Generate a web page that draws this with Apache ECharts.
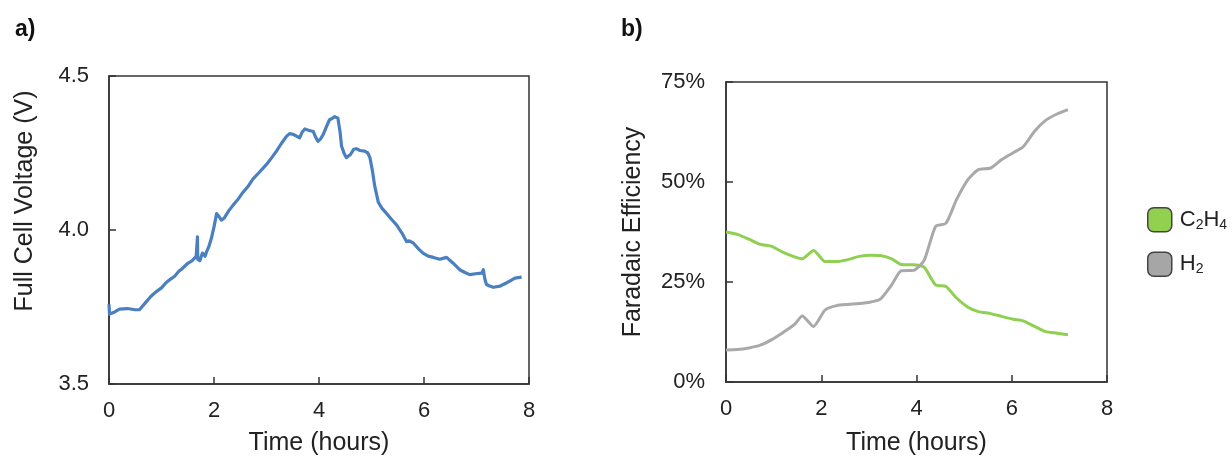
<!DOCTYPE html>
<html>
<head>
<meta charset="utf-8">
<style>
  html, body { margin: 0; padding: 0; background: #fff; }
  #chart { width: 1232px; height: 461px; }
</style>
<script src="https://cdn.jsdelivr.net/npm/echarts@6/dist/echarts.min.js"></script>
</head>
<body>
<div id="chart"></div>
<script>
// panel a: full cell voltage vs time
const voltTime = [0, 0.01, 0.1, 0.2, 0.35, 0.5, 0.58, 0.7, 0.8, 0.9, 1.0, 1.08, 1.16, 1.25, 1.33, 1.41, 1.5, 1.58, 1.66, 1.68, 1.685, 1.69, 1.73, 1.78, 1.83, 1.86, 1.9, 1.95, 2.0, 2.05, 2.09, 2.14, 2.2, 2.28, 2.36, 2.45, 2.55, 2.65, 2.74, 2.85, 3.0, 3.1, 3.19, 3.28, 3.38, 3.44, 3.52, 3.63, 3.68, 3.73, 3.8, 3.89, 3.94, 3.98, 4.03, 4.08, 4.14, 4.2, 4.25, 4.3, 4.36, 4.4, 4.43, 4.48, 4.52, 4.6, 4.66, 4.71, 4.78, 4.87, 4.93, 4.97, 5.02, 5.06, 5.13, 5.2, 5.29, 5.38, 5.48, 5.58, 5.67, 5.72, 5.8, 5.9, 5.98, 6.08, 6.18, 6.3, 6.43, 6.55, 6.68, 6.78, 6.87, 6.98, 7.1, 7.13, 7.16, 7.19, 7.25, 7.32, 7.45, 7.57, 7.65, 7.73, 7.86];
const voltValue = [3.759, 3.727, 3.733, 3.743, 3.745, 3.741, 3.741, 3.765, 3.785, 3.800, 3.812, 3.828, 3.839, 3.850, 3.866, 3.877, 3.892, 3.900, 3.914, 3.910, 3.978, 3.905, 3.900, 3.925, 3.915, 3.930, 3.945, 3.973, 4.010, 4.053, 4.045, 4.032, 4.040, 4.062, 4.080, 4.098, 4.122, 4.142, 4.165, 4.185, 4.213, 4.235, 4.256, 4.280, 4.304, 4.313, 4.310, 4.299, 4.318, 4.328, 4.324, 4.320, 4.300, 4.288, 4.296, 4.310, 4.335, 4.358, 4.362, 4.368, 4.363, 4.320, 4.272, 4.248, 4.235, 4.245, 4.262, 4.264, 4.258, 4.256, 4.250, 4.235, 4.190, 4.144, 4.090, 4.070, 4.053, 4.035, 4.016, 3.990, 3.962, 3.965, 3.957, 3.938, 3.925, 3.915, 3.911, 3.905, 3.911, 3.893, 3.871, 3.862, 3.855, 3.858, 3.860, 3.871, 3.840, 3.823, 3.818, 3.814, 3.818, 3.828, 3.836, 3.844, 3.847];

// panel b: faradaic efficiency (%) vs time
const feTime = [0, 0.24, 0.48, 0.72, 0.96, 1.2, 1.44, 1.6, 1.84, 2.08, 2.32, 2.56, 2.8, 3.04, 3.24, 3.48, 3.68, 3.94, 4.16, 4.4, 4.62, 4.84, 5.08, 5.3, 5.56, 5.79, 6.03, 6.24, 6.48, 6.71, 6.95, 7.18];
const c2h4 = [37.5, 36.9, 35.7, 34.4, 33.9, 32.4, 31.3, 30.8, 32.9, 30.1, 30.1, 30.6, 31.4, 31.7, 31.6, 30.8, 29.4, 29.3, 28.7, 24.3, 23.9, 21.0, 18.7, 17.6, 17.1, 16.4, 15.7, 15.3, 13.9, 12.6, 12.2, 11.8];
const h2 = [8.0, 8.1, 8.5, 9.2, 10.6, 12.4, 14.4, 16.5, 13.9, 18.0, 19.1, 19.4, 19.6, 20.0, 20.7, 24.3, 27.8, 27.9, 30.4, 38.9, 39.7, 45.6, 50.6, 53.1, 53.5, 55.6, 57.3, 58.8, 62.7, 65.4, 67.0, 68.1];

const xTicks = [0, 2, 4, 6, 8];
const voltTicks = ['3.5', '4.0', '4.5'];
const feTicks = ['0%', '25%', '50%', '75%'];

const zip = (xs, ys) => xs.map((x, i) => [x, ys[i]]);

const font = 'Liberation Sans, Arial, Helvetica, sans-serif';
const ink = '#222';
const axisLineStyle = { color: '#333', width: 1.5 };

const chart = echarts.init(document.getElementById('chart'));

const xAxisBase = {
  type: 'value',
  min: xTicks[0],
  max: xTicks[xTicks.length - 1],
  interval: 2,
  axisLine: { show: true, onZero: false, lineStyle: axisLineStyle },
  axisTick: { show: true, inside: true, length: 7, lineStyle: axisLineStyle },
  splitLine: { show: false },
  axisLabel: { color: ink, fontSize: 22, fontFamily: font, margin: 16 },
  name: 'Time (hours)',
  nameLocation: 'middle',
  nameTextStyle: { color: ink, fontSize: 25, fontFamily: font }
};

const option = {
  animation: false,
  backgroundColor: '#fff',
  title: [
    { text: 'a)', left: 10, top: 13, textStyle: { fontSize: 23, fontWeight: 'bold', color: '#111', fontFamily: font } },
    { text: 'b)', left: 616, top: 13, textStyle: { fontSize: 23, fontWeight: 'bold', color: '#111', fontFamily: font } }
  ],
  grid: [
    { left: 109, top: 76, width: 420, height: 311, show: true, borderColor: '#333', borderWidth: 1.5, backgroundColor: 'transparent' },
    { left: 726, top: 82, width: 381, height: 300, show: true, borderColor: '#333', borderWidth: 1.5, backgroundColor: 'transparent' }
  ],
  legend: {
    orient: 'vertical',
    left: 1147,
    top: 207,
    padding: 0,
    itemWidth: 24,
    itemHeight: 24,
    itemGap: 19,
    icon: 'roundRect',
    itemStyle: { borderColor: '#444', borderWidth: 1.5 },
    data: ['C2H4', 'H2'],
    formatter: function (name) {
      return name === 'C2H4' ? '{n|C}{s|2}{n|H}{s|4}' : '{n|H}{s|2}';
    },
    textStyle: {
      padding: [0, 0, 0, 3],
      rich: {
        n: { fontSize: 22, lineHeight: 24, color: ink, fontFamily: font },
        s: { fontSize: 14, lineHeight: 14, color: ink, fontFamily: font, verticalAlign: 'bottom' }
      }
    }
  },
  xAxis: [
    Object.assign({}, xAxisBase, { gridIndex: 0, nameGap: 47 }),
    Object.assign({}, xAxisBase, { gridIndex: 1, nameGap: 49 })
  ],
  yAxis: [
    {
      gridIndex: 0,
      type: 'value',
      min: 3.5,
      max: 4.5,
      interval: 0.5,
      axisLine: { show: true, lineStyle: axisLineStyle },
      axisTick: { show: true, inside: true, length: 7, lineStyle: axisLineStyle },
      splitLine: { show: false },
      axisLabel: {
        color: ink, fontSize: 22, fontFamily: font, margin: 20,
        formatter: v => voltTicks[Math.round((v - 3.5) / 0.5)]
      },
      name: 'Full Cell Voltage (V)',
      nameLocation: 'middle',
      nameGap: 71,
      nameTextStyle: { color: ink, fontSize: 25, fontFamily: font, padding: [0, 0, 0, 58] }
    },
    {
      gridIndex: 1,
      type: 'value',
      min: 0,
      max: 75,
      interval: 25,
      axisLine: { show: true, lineStyle: axisLineStyle },
      axisTick: { show: true, inside: true, length: 7, lineStyle: axisLineStyle },
      splitLine: { show: false },
      axisLabel: {
        color: ink, fontSize: 22, fontFamily: font, margin: 21,
        formatter: v => feTicks[Math.round(v / 25)]
      },
      name: 'Faradaic Efficiency',
      nameLocation: 'middle',
      nameGap: 80,
      nameTextStyle: { color: ink, fontSize: 25, fontFamily: font }
    }
  ],
  series: [
    {
      name: 'Voltage',
      type: 'line',
      xAxisIndex: 0,
      yAxisIndex: 0,
      data: zip(voltTime, voltValue),
      showSymbol: false,
      lineStyle: { color: '#4a7fc0', width: 3.2, join: 'round' },
      itemStyle: { color: '#4a7fc0' }
    },
    {
      name: 'C2H4',
      type: 'line',
      xAxisIndex: 1,
      yAxisIndex: 1,
      data: zip(feTime, c2h4),
      showSymbol: false,
      smooth: 0.2,
      lineStyle: { color: '#8fd052', width: 3 },
      itemStyle: { color: '#92d050' }
    },
    {
      name: 'H2',
      type: 'line',
      xAxisIndex: 1,
      yAxisIndex: 1,
      data: zip(feTime, h2),
      showSymbol: false,
      smooth: 0.2,
      lineStyle: { color: '#a9a9a9', width: 3 },
      itemStyle: { color: '#a6a6a6' }
    }
  ]
};

chart.setOption(option);
</script>
</body>
</html>
